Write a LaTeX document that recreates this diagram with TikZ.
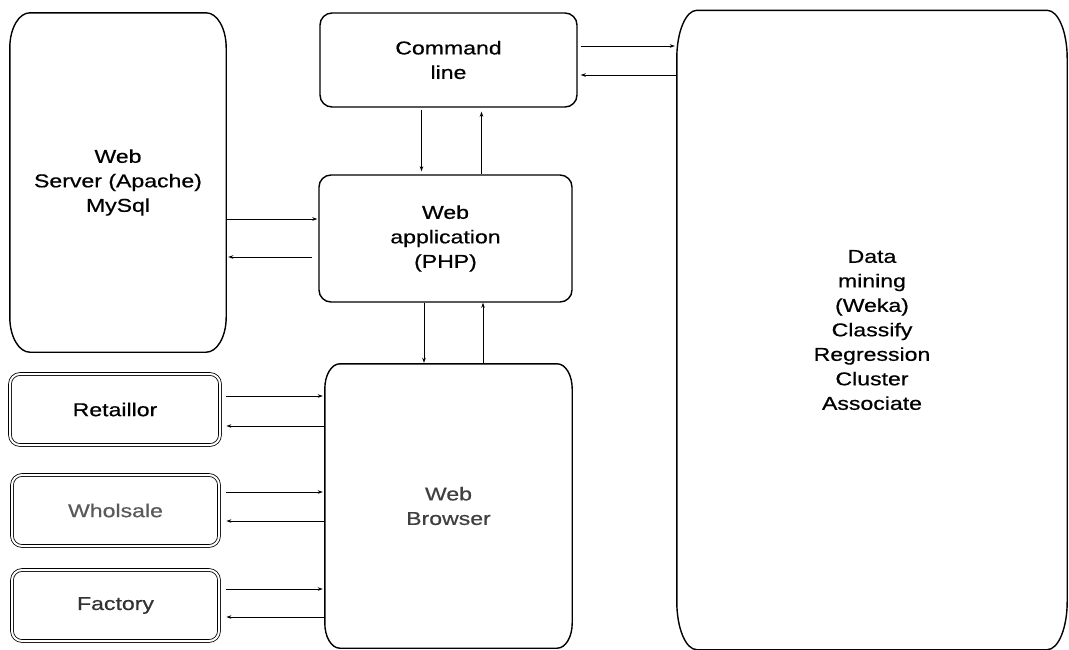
\documentclass[tikz,border=0pt]{standalone}
\usepackage{fontspec}
\setmainfont{Liberation Sans}[FakeStretch=1.24, FakeBold=0.6]
\usepackage{tikz}
\usetikzlibrary{calc,arrows.meta,positioning}

\tikzset{
    boxline/.style={line width=1.4pt, black},
    block/.style={draw, boxline, rounded corners=12pt, align=center, inner sep=0pt},
    tall/.style={draw=none, align=center, inner sep=0pt},
    dbl/.style={draw, double, double distance=2pt, line width=0.8pt, rounded corners=10pt, align=center, inner sep=0pt},
    arr/.style={-{Stealth[length=5pt,width=3.5pt]}, line width=0.9pt},
}
% rounded box with elliptic corners around a node: name, x radius, y radius
\newcommand{\ovalbox}[3]{%
    \draw[boxline] ([yshift=-#3pt]#1.north west)
        .. controls ([yshift=-0.448*#3pt]#1.north west) and ([xshift=0.448*#2pt]#1.north west) .. ([xshift=#2pt]#1.north west)
        -- ([xshift=-#2pt]#1.north east)
        .. controls ([xshift=-0.448*#2pt]#1.north east) and ([yshift=-0.448*#3pt]#1.north east) .. ([yshift=-#3pt]#1.north east)
        -- ([yshift=#3pt]#1.south east)
        .. controls ([yshift=0.448*#3pt]#1.south east) and ([xshift=-0.448*#2pt]#1.south east) .. ([xshift=-#2pt]#1.south east)
        -- ([xshift=#2pt]#1.south west)
        .. controls ([xshift=0.448*#2pt]#1.south west) and ([yshift=0.448*#3pt]#1.south west) .. ([yshift=#3pt]#1.south west)
        -- cycle;
}

\begin{document}
\begin{tikzpicture}[x=1pt, y=-1pt, font=\fontsize{18.6}{24.5}\selectfont]
        \useasboundingbox (0,0) rectangle (1069,649);

        % tall boxes
        \node[tall, minimum width=216pt, minimum height=339pt] (srv) at (118,182.5) {Web\\Server (Apache)\\MySql};
        \node[tall, minimum width=247pt, minimum height=284pt, text=black!75] (brw) at (448.5,506) {Web\\Browser};
        \node[tall, minimum width=390pt, minimum height=639pt] (dm) at (872,330) {Data\\mining\\(Weka)\\Classify\\Regression\\Cluster\\Associate};
        \ovalbox{srv}{20}{35}
        \ovalbox{brw}{15}{25}
        \ovalbox{dm}{20}{48}

        % middle boxes
        \node[block, minimum width=257pt, minimum height=94pt] (cmd) at (448.5,60) {Command\\line};
        \node[block, minimum width=253pt, minimum height=127pt] (app) at (445.5,238.5) {Web\\application\\(PHP)};

        % users
        \node[dbl, minimum width=210pt, minimum height=71pt] (ret) at (115,409.5) {Retaillor};
        \node[dbl, minimum width=207pt, minimum height=71pt, text=black!65] (whl) at (115.5,510.5) {Wholsale};
        \node[dbl, minimum width=207pt, minimum height=71pt, text=black!80] (fac) at (115.5,605.5) {Factory};

        % command line <-> data mining
        \draw[arr, shorten <=3pt, shorten >=2pt] ([yshift=14pt]cmd.east) -- ([yshift=14pt]cmd.east -| dm.west);
        \draw[arr, shorten >=3pt] ([yshift=-15pt]cmd.east -| dm.west) -- ([yshift=-15pt]cmd.east);

        % command line <-> web application
        \draw[arr, shorten <=2pt, shorten >=3pt] ([xshift=-27pt]cmd.south) -- ([xshift=-27pt]cmd.south |- app.north);
        \draw[arr, shorten >=4pt] ([xshift=33pt]cmd.south |- app.north) -- ([xshift=33pt]cmd.south);

        % web server <-> web application
        \draw[arr, shorten >=1pt] ([yshift=19.5pt]app.west -| srv.east) -- ([yshift=19.5pt]app.west);
        \draw[arr, shorten <=6pt, shorten >=2pt] ([yshift=-18.5pt]app.west) -- ([yshift=-18.5pt]app.west -| srv.east);

        % web application <-> web browser
        \draw[arr, shorten >=1pt] ([xshift=-21.5pt]app.south) -- ([xshift=-21.5pt]app.south |- brw.north);
        \draw[arr] ([xshift=37.5pt]app.south |- brw.north) -- ([xshift=37.5pt]app.south);

        % users <-> web browser
        \draw[arr, shorten <=6pt, shorten >=2pt] ([yshift=13.5pt]ret.east) -- ([yshift=13.5pt]ret.east -| brw.west);
        \draw[arr, shorten >=6pt] ([yshift=-16.5pt]ret.east -| brw.west) -- ([yshift=-16.5pt]ret.east);
        \draw[arr, shorten <=7pt, shorten >=2pt] ([yshift=18.5pt]whl.east) -- ([yshift=18.5pt]whl.east -| brw.west);
        \draw[arr, shorten >=7pt] ([yshift=-10.5pt]whl.east -| brw.west) -- ([yshift=-10.5pt]whl.east);
        \draw[arr, shorten <=7pt, shorten >=2pt] ([yshift=16.5pt]fac.east) -- ([yshift=16.5pt]fac.east -| brw.west);
        \draw[arr, shorten >=7pt] ([yshift=-11.5pt]fac.east -| brw.west) -- ([yshift=-11.5pt]fac.east);

    \end{tikzpicture}
\end{document}
